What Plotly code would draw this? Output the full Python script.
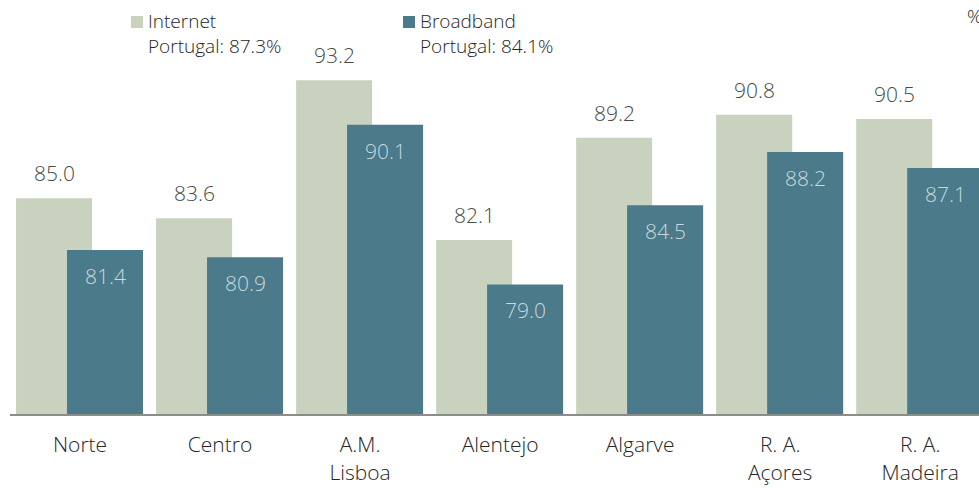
import plotly.graph_objects as go

# Dados
regioes = ["Norte", "Centro", "A.M.<br>Lisboa", "Alentejo", "Algarve", "R. A.<br>Açores", "R. A.<br>Madeira"]
internet = [85.0, 83.6, 93.2, 82.1, 89.2, 90.8, 90.5]
banda_larga = [81.4, 80.9, 90.1, 79.0, 84.5, 88.2, 87.1]
series = ["Internet", "Broadband"]
portugal = [87.3, 84.1]

cor_internet = "#c9d2bf"
cor_banda = "#4b7a8a"
fonte = "Open Sans, Segoe UI, sans-serif"
peso = 300  # letra fina, como no original

x = list(range(len(regioes)))
largura = 0.543

fig = go.Figure()
fig.add_trace(go.Bar(
    x=x, y=internet, name=series[0],
    width=largura, offset=-0.457,
    marker=dict(color=cor_internet, line=dict(width=0)),
))
fig.add_trace(go.Bar(
    x=x, y=banda_larga, name=series[1],
    width=largura, offset=-0.093,
    marker=dict(color=cor_banda, line=dict(width=0)),
))

# Rótulos de valores
for i, v in enumerate(internet):
    fig.add_annotation(x=i - 0.457 + largura / 2, y=v, text=f"{v:.1f}",
                       showarrow=False, yshift=25,
                       font=dict(family=fonte, size=21, color="#474c42", weight=peso))
for i, v in enumerate(banda_larga):
    fig.add_annotation(x=i - 0.093 + largura / 2, y=v, text=f"{v:.1f}",
                       showarrow=False, yshift=-26,
                       font=dict(family=fonte, size=21, color="#c9d8de", weight=peso))

# Legenda manual
leg_x = [131, 403]
cores = [cor_internet, cor_banda]
for nome, val, px, cor in zip(series, portugal, leg_x, cores):
    fig.add_shape(type="rect", xref="paper", yref="paper",
                  x0=(px - 10) / 969, x1=(px + 12 - 10) / 969,
                  y0=1 - 28 / 414, y1=1 - 16 / 414,
                  fillcolor=cor, line=dict(width=0))
    fig.add_annotation(xref="paper", yref="paper", x=(px + 15 - 10) / 969, y=1 - 21 / 414,
                       text=nome, showarrow=False, xanchor="left", yanchor="middle",
                       font=dict(family=fonte, size=19, color="#262626", weight=peso))
    fig.add_annotation(xref="paper", yref="paper", x=(px + 15 - 10) / 969, y=1 - 46 / 414,
                       text=f"Portugal: {val}%", showarrow=False, xanchor="left", yanchor="middle",
                       font=dict(family=fonte, size=19, color="#262626", weight=peso))

fig.add_annotation(xref="paper", yref="paper", x=(965 - 10) / 969, y=1 - 16 / 414,
                   text="%", showarrow=False, xanchor="left", yanchor="middle",
                   font=dict(family=fonte, size=19, color="#262626", weight=peso))

fig.update_layout(
    barmode="overlay",
    width=979, height=488,
    margin=dict(l=10, r=0, t=0, b=74),
    plot_bgcolor="white", paper_bgcolor="white",
    showlegend=False,
    xaxis=dict(range=[-0.5, 6.42], tickmode="array", tickvals=x, ticktext=regioes,
               showgrid=False, zeroline=False, showline=True, linecolor="#8c8c8c", linewidth=2,
               ticks="", ticklabelstandoff=11,
               tickfont=dict(family=fonte, size=21, color="#262626", weight=peso)),
    yaxis=dict(range=[70, 98.77], visible=False, showgrid=False, zeroline=False),
)

fig.write_html("out.html", config={"displayModeBar": False},
               post_script="document.body.style.margin='0';")
